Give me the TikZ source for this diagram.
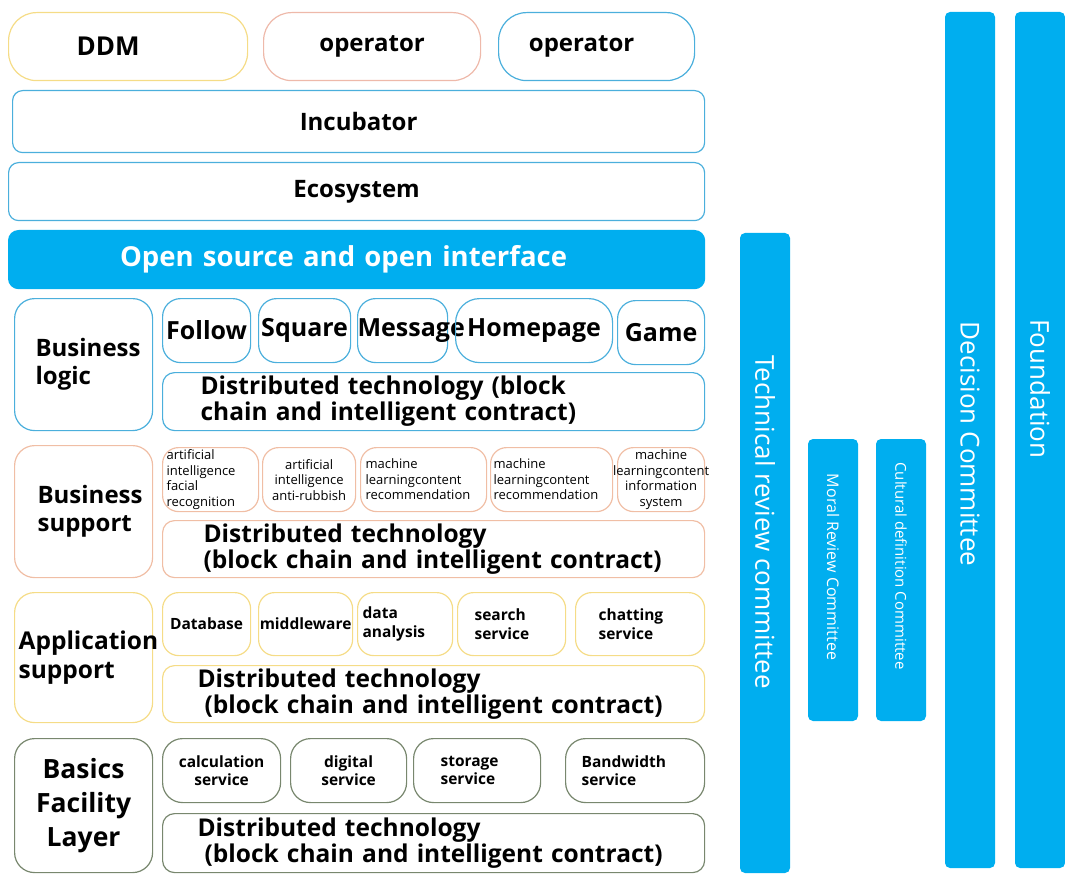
\documentclass[tikz,border=0pt]{standalone}
\usepackage{fontspec}
\setmainfont{Open Sans}
\definecolor{cBlue}{RGB}{75,175,220}
\definecolor{cFill}{RGB}{0,174,239}
\definecolor{cOrng}{RGB}{240,190,165}
\definecolor{cPink}{RGB}{238,185,170}
\definecolor{cYel}{RGB}{245,220,135}
\definecolor{cOlive}{RGB}{120,135,110}

\begin{document}
\begin{tikzpicture}[x=1pt,y=-1pt,
	box/.style={draw,line width=1.2pt,rounded corners=#1,anchor=north west,inner xsep=0pt,inner ysep=0pt,align=center},
	big/.style={font=\fontsize{24}{28}\selectfont\bfseries},
	mid/.style={font=\fontsize{15.5}{18.5}\selectfont\bfseries},
	tiny/.style={font=\fontsize{13}{15.5}\selectfont},
	dist/.style={box=12pt,font=\fontsize{24.5}{26}\selectfont\bfseries,align=left,inner xsep=38pt,text width=466pt,minimum height=#1},
	bar/.style={fill=cFill,rounded corners=5pt,minimum width=50pt,inner sep=0pt},
	bartext/.style={rotate=-90,text=white,inner sep=0pt,font=\fontsize{26}{30}\selectfont}]
	\useasboundingbox (0,0) rectangle (1065,877);

	% top rows
	\node[box=28pt,cYel,text=black,text width=239pt,minimum height=68pt,font=\fontsize{26}{30}\selectfont\bfseries] (ddm) at (8,12) {DDM\hspace{40pt}\mbox{}};
	\node[box=28pt,cPink,big,text=black,text width=217pt,minimum height=68pt] (opA) at (263,12) {operator\\[6pt]};
	\node[box=28pt,cBlue,big,text=black,text width=196pt,minimum height=68pt] (opB) at (498,12) {operator\hspace{30pt}\mbox{}};
	\node[box=10pt,cBlue,big,text=black,text width=692pt,minimum height=62pt] (incub) at (12,90) {Incubator};
	\node[box=10pt,cBlue,big,text=black,text width=696pt,minimum height=58pt] (eco) at (8,162) {Ecosystem};
	\node[box=10pt,draw=cFill,fill=cFill,text=white,text width=696pt,minimum height=58pt,font=\fontsize{27.5}{31}\selectfont\bfseries] (open) at (8,230) {Open source and open interface\hspace{26pt}\mbox{}};

	% business logic
	\node[box=20pt,cBlue,big,text=black,align=left,inner xsep=21pt,text width=96pt,minimum height=132pt] (logic) at (14,298) {Business\\logic};
	\node[box=18pt,cBlue,text=black,text width=88pt,minimum height=64pt,font=\fontsize{25}{29}\selectfont\bfseries] (follow) at (162,298) {Follow};
	\node[box=18pt,cBlue,text=black,text width=92pt,minimum height=64pt,font=\fontsize{25}{29}\selectfont\bfseries] (square) at (258,298) {Square};
	\node[box=18pt,cBlue,text=black,align=left,text width=90pt,minimum height=64pt,font=\fontsize{25}{29}\selectfont\bfseries] (msg) at (357,298) {Message};
	\node[box=24pt,cBlue,text=black,text width=157pt,minimum height=64pt,font=\fontsize{25}{29}\selectfont\bfseries] (home) at (455,298) {Homepage};
	\node[box=18pt,cBlue,text=black,text width=87pt,minimum height=64pt,font=\fontsize{25}{29}\selectfont\bfseries] (game) at (617,300) {Game};
	\node[dist=58pt,cBlue,text=black] (distA) at (162,372) {Distributed technology (block\\chain and intelligent contract)};

	% business support
	\node[box=20pt,cOrng,big,text=black,align=left,inner xsep=23pt,text width=92pt,minimum height=132pt] (supp) at (14,445) {Business\\support};
	\node[box=16pt,cOrng,tiny,text=black,align=left,inner xsep=4pt,text width=88pt,minimum height=64pt] (aiA) at (162,447) {artificial\\intelligence\\facial\\recognition};
	\node[box=16pt,cOrng,tiny,text=black,text width=93pt,minimum height=64pt] (aiB) at (262,447) {artificial\\intelligence\\anti-rubbish};
	\node[box=16pt,cOrng,tiny,text=black,align=left,inner xsep=5pt,text width=116pt,minimum height=64pt] (mlA) at (360,447) {machine\\learningcontent\\recommendation};
	\node[box=16pt,cOrng,tiny,text=black,align=left,inner xsep=3pt,text width=116pt,minimum height=64pt] (mlB) at (490,447) {machine\\learningcontent\\recommendation};
	\node[box=16pt,cOrng,tiny,text=black,text width=87pt,minimum height=64pt] (mlC) at (617,447) {machine\\\makebox[0pt]{learningcontent}\\information\\system};
	\node[dist=57pt,cOrng,text=black,inner xsep=41pt,text width=460pt] (distB) at (162,520) {Distributed technology\\(block chain and intelligent contract)};

	% application support
	\node[box=20pt,cYel,text=black,align=left,inner xsep=4pt,text width=130pt,minimum height=130pt,font=\fontsize{24.5}{29}\selectfont\bfseries] (appl) at (14,592) {Application\\support\\[8pt]};
	\node[box=16pt,cYel,mid,text=black,text width=88pt,minimum height=63pt] (dbase) at (162,592) {Database};
	\node[box=16pt,cYel,mid,text=black,text width=94pt,minimum height=63pt] (mware) at (258,592) {middleware};
	\node[box=16pt,cYel,mid,text=black,align=left,inner xsep=5pt,text width=85pt,minimum height=63pt] (data) at (357,592) {data\\analysis\\[6pt]};
	\node[box=16pt,cYel,mid,text=black,align=left,inner xsep=17pt,text width=74pt,minimum height=63pt] (search) at (457,592) {search\\service};
	\node[box=16pt,cYel,mid,text=black,align=left,inner xsep=23pt,text width=83pt,minimum height=63pt] (chat) at (575,592) {chatting\\service\\[4pt]};
	\node[dist=57pt,cYel,text=black,inner xsep=35pt,text width=472pt] (distC) at (162,665) {Distributed technology\\\hspace{7pt}(block chain and intelligent contract)};

	% basics facility layer
	\node[box=20pt,cOlive,text=black,text width=138pt,minimum height=134pt,font=\fontsize{26.5}{34}\selectfont\bfseries] (basic) at (14,738) {Basics\\Facility\\Layer};
	\node[box=20pt,cOlive,mid,text=black,text width=118pt,minimum height=64pt] (calc) at (162,738) {calculation\\service};
	\node[box=20pt,cOlive,mid,text=black,text width=116pt,minimum height=64pt] (digit) at (290,738) {digital\\service};
	\node[box=20pt,cOlive,mid,text=black,align=left,inner xsep=27pt,text width=73pt,minimum height=64pt] (store) at (413,738) {storage\\service\\[6pt]};
	\node[box=20pt,cOlive,mid,text=black,align=left,inner xsep=16pt,text width=107pt,minimum height=64pt] (band) at (565,738) {Bandwidth\\service};
	\node[dist=59pt,cOlive,text=black,inner xsep=35pt,text width=472pt] (distD) at (162,813) {Distributed technology\\\hspace{7pt}(block chain and intelligent contract)};

	% committees
	\node[bar,minimum height=640pt] (tech) at (765,553) {};
	\node[bartext] (techT) at (765,522) {Technical review committee};
	\node[bar,minimum height=282pt] (moral) at (833,580) {};
	\node[bartext,font=\fontsize{16}{19}\selectfont] (moralT) at (833,567) {Moral Review Committee};
	\node[bar,minimum height=282pt] (cult) at (901,580) {};
	\node[bartext,font=\fontsize{15}{18}\selectfont] (cultT) at (901,566) {Cultural definition Committee};
	\node[bar,minimum height=856pt] (decis) at (970,440) {};
	\node[bartext] (decisT) at (970,444) {Decision Committee};
	\node[bar,minimum height=856pt] (found) at (1040,440) {};
	\node[bartext] (foundT) at (1040,389) {Foundation};
\end{tikzpicture}
\end{document}
